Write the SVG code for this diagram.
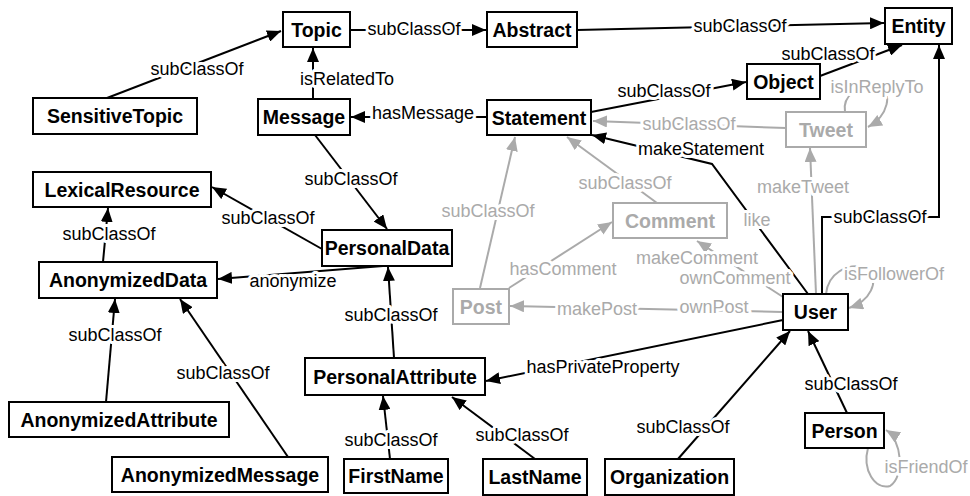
<svg xmlns="http://www.w3.org/2000/svg" width="970" height="496" viewBox="0 0 970 496">
<style>
.n rect{fill:#fff;stroke:#000;stroke-width:2}
.n text{font-family:"Liberation Sans",Arial,sans-serif;font-weight:bold;font-size:19.5px;text-anchor:middle;fill:#000}
.g rect{stroke:#aaa}
.g text{fill:#aaa}
.e{fill:none;stroke:#000;stroke-width:2}
.eg{fill:none;stroke:#aaa;stroke-width:2}
.l{font-family:"Liberation Sans",Arial,sans-serif;font-size:18px;text-anchor:middle;fill:#000;stroke:#fff;stroke-width:6;stroke-linejoin:round;paint-order:stroke}
.lg{fill:#aaa}
</style>
<defs>
<marker id="a" markerUnits="userSpaceOnUse" markerWidth="14" markerHeight="12" refX="14" refY="6" orient="auto"><path d="M0,0 L14,6 L0,12 z" fill="#000"/></marker>
<marker id="ag" markerUnits="userSpaceOnUse" markerWidth="14" markerHeight="12" refX="14" refY="6" orient="auto"><path d="M0,0 L14,6 L0,12 z" fill="#aaa"/></marker>
</defs>
<g id="connectors">
<path class="e" d="M107,98 L281,31" marker-end="url(#a)"/>
<path class="e" d="M350,30 L486,30" marker-end="url(#a)"/>
<path class="e" d="M577,30 L884,23" marker-end="url(#a)"/>
<path class="e" d="M820,76 L902,45" marker-end="url(#a)"/>
<path class="e" d="M591,112 L746,82" marker-end="url(#a)"/>
<path class="e" d="M313,99 L313,48" marker-end="url(#a)"/>
<path class="e" d="M487,117 L351,117" marker-end="url(#a)"/>
<path class="e" d="M315,135 L387,229" marker-end="url(#a)"/>
<path class="e" d="M322,249 L212,187" marker-end="url(#a)"/>
<path class="e" d="M383,266 L218,279" marker-end="url(#a)"/>
<path class="e" d="M103,262 L108,208" marker-end="url(#a)"/>
<path class="e" d="M106,402 L115,299" marker-end="url(#a)"/>
<path class="e" d="M288,457 L180,299" marker-end="url(#a)"/>
<path class="e" d="M394,358 L388,267" marker-end="url(#a)"/>
<path class="e" d="M390,459 L383,396" marker-end="url(#a)"/>
<path class="e" d="M535,459 L452,397" marker-end="url(#a)"/>
<path class="e" d="M783,320 L486,381" marker-end="url(#a)"/>
<path class="e" d="M678,459 L790,331" marker-end="url(#a)"/>
<path class="e" d="M847,413 L808,331" marker-end="url(#a)"/>
<path class="e" d="M808,294 L712,164 L592,135" marker-end="url(#a)"/>
<path class="e" d="M822,294 L822,217 L939,217 L939,45" marker-end="url(#a)"/>
<path class="eg" d="M786,128 L593,121" marker-end="url(#ag)"/>
<path class="eg" d="M845,112 C842,96 860,82 878,86 C894,92 888,116 868,127" marker-end="url(#ag)"/>
<path class="eg" d="M816,294 L810,148" marker-end="url(#ag)"/>
<path class="eg" d="M826,294 C828,274 846,262 868,268 C880,282 870,301 849,308" marker-end="url(#ag)"/>
<path class="eg" d="M783,312 L510,306" marker-end="url(#ag)"/>
<path class="eg" d="M783,297 L697,241" marker-end="url(#ag)"/>
<path class="eg" d="M509,288 L612,222" marker-end="url(#ag)"/>
<path class="eg" d="M480,288 L515,137" marker-end="url(#ag)"/>
<path class="eg" d="M657,203 L567,137" marker-end="url(#ag)"/>
<path class="eg" d="M868,448 C862,470 875,490 890,486 C905,476 902,440 886,430" marker-end="url(#ag)"/>
<text class="l" x="197" y="75">subClassOf</text>
<text class="l" x="414" y="35">subClassOf</text>
<text class="l" x="740" y="32">subClassOf</text>
<text class="l" x="828" y="60">subClassOf</text>
<text class="l" x="664" y="97">subClassOf</text>
<text class="l" x="347" y="85">isRelatedTo</text>
<text class="l" x="423" y="119">hasMessage</text>
<text class="l" x="351" y="185">subClassOf</text>
<text class="l" x="268" y="224">subClassOf</text>
<text class="l" x="293" y="287">anonymize</text>
<text class="l" x="109" y="240">subClassOf</text>
<text class="l" x="115" y="341">subClassOf</text>
<text class="l" x="223" y="379">subClassOf</text>
<text class="l" x="391" y="321">subClassOf</text>
<text class="l" x="391" y="446">subClassOf</text>
<text class="l" x="522" y="441">subClassOf</text>
<text class="l" x="603" y="373">hasPrivateProperty</text>
<text class="l" x="683" y="433">subClassOf</text>
<text class="l" x="851" y="390">subClassOf</text>
<text class="l" x="701" y="155">makeStatement</text>
<text class="l lg" x="757" y="226">like</text>
<text class="l" x="880" y="223">subClassOf</text>
<text class="l lg" x="689" y="130">subClassOf</text>
<text class="l lg" x="877" y="93">isInReplyTo</text>
<text class="l lg" x="803" y="193">makeTweet</text>
<text class="l lg" x="894" y="280">isFollowerOf</text>
<text class="l lg" x="597" y="315">makePost</text>
<text class="l lg" x="714" y="313">ownPost</text>
<text class="l lg" x="697" y="264">makeComment</text>
<text class="l lg" x="735" y="284">ownComment</text>
<text class="l lg" x="563" y="275">hasComment</text>
<text class="l lg" x="488" y="217">subClassOf</text>
<text class="l lg" x="625" y="189">subClassOf</text>
<text class="l lg" x="926" y="473">isFriendOf</text>
</g>
<g id="Topic" class="n"><rect x="283" y="12" width="67" height="35"/><text x="316.5" y="36.5">Topic</text></g>
<g id="Abstract" class="n"><rect x="487" y="12" width="90" height="35"/><text x="532" y="36.5">Abstract</text></g>
<g id="Entity" class="n"><rect x="885" y="8" width="67" height="36"/><text x="918.5" y="33">Entity</text></g>
<g id="Object" class="n"><rect x="747" y="64" width="73" height="35"/><text x="783.5" y="88.5">Object</text></g>
<g id="Statement" class="n"><rect x="487" y="100" width="104" height="35"/><text x="539" y="124.5">Statement</text></g>
<g id="Tweet" class="n g"><rect x="786" y="112" width="80" height="35"/><text x="826" y="136.5">Tweet</text></g>
<g id="Message" class="n"><rect x="258" y="99" width="92" height="36"/><text x="304" y="124">Message</text></g>
<g id="SensitiveTopic" class="n"><rect x="33" y="98" width="164" height="36"/><text x="115" y="123">SensitiveTopic</text></g>
<g id="LexicalResource" class="n"><rect x="33" y="172" width="178" height="35"/><text x="122" y="196.5">LexicalResource</text></g>
<g id="PersonalData" class="n"><rect x="322" y="230" width="130" height="36"/><text x="387" y="255">PersonalData</text></g>
<g id="AnonymizedData" class="n"><rect x="39" y="262" width="178" height="36"/><text x="128" y="287">AnonymizedData</text></g>
<g id="Comment" class="n g"><rect x="613" y="203" width="114" height="35"/><text x="670" y="227.5">Comment</text></g>
<g id="Post" class="n g"><rect x="453" y="289" width="56" height="35"/><text x="481" y="313.5">Post</text></g>
<g id="User" class="n"><rect x="783" y="294" width="65" height="36"/><text x="815.5" y="319">User</text></g>
<g id="PersonalAttribute" class="n"><rect x="305" y="358" width="180" height="37"/><text x="395" y="383.5">PersonalAttribute</text></g>
<g id="AnonymizedAttribute" class="n"><rect x="9" y="402" width="220" height="35"/><text x="119" y="426.5">AnonymizedAttribute</text></g>
<g id="Person" class="n"><rect x="805" y="413" width="79" height="35"/><text x="844.5" y="437.5">Person</text></g>
<g id="AnonymizedMessage" class="n"><rect x="112" y="457" width="216" height="35"/><text x="220" y="481.5">AnonymizedMessage</text></g>
<g id="FirstName" class="n"><rect x="344" y="459" width="104" height="34"/><text x="396" y="483">FirstName</text></g>
<g id="LastName" class="n"><rect x="483" y="459" width="104" height="36"/><text x="535" y="484">LastName</text></g>
<g id="Organization" class="n"><rect x="605" y="459" width="129" height="36"/><text x="669.5" y="484">Organization</text></g>
</svg>
